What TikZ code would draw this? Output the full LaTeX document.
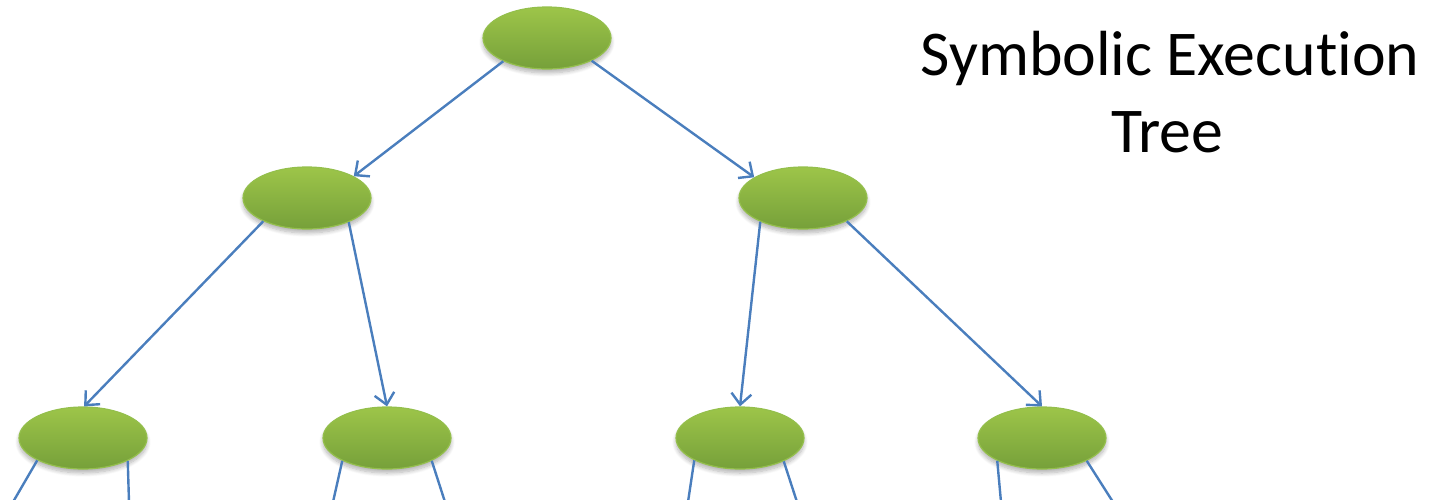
\documentclass[tikz,border=0pt]{standalone}
\usepackage{fontspec}
\setmainfont{Carlito}[Ligatures=NoCommon]
\usetikzlibrary{shapes.geometric,arrows.meta,shadows.blur}
\definecolor{edgeblue}{HTML}{4A7EBD}
\definecolor{gtop}{HTML}{9DC549}
\definecolor{gbot}{HTML}{76A03A}
\definecolor{gborder}{HTML}{94BF4C}
\begin{document}
\begin{tikzpicture}[x=1pt,y=-1pt,
  state/.style={ellipse, minimum width=128pt, minimum height=62pt, inner sep=0pt,
    top color=gtop, bottom color=gbot, draw=gborder, line width=1.2pt,
    blur shadow={shadow xshift=0pt, shadow yshift=-4pt, shadow opacity=30, shadow blur radius=4pt, shadow blur steps=8}},
  link/.style={draw=edgeblue, line width=2.4pt, -{Straight Barb[length=11pt,width=20pt]}},
  tail/.style={draw=edgeblue, line width=2.4pt},
  title/.style={inner sep=0pt, anchor=base, font=\fontsize{63.8}{76}\selectfont}]
\path[use as bounding box] (0,0) rectangle (1437,500);
\begin{scope}
\clip (0,0) rectangle (1437,500);
\node[state] (r) at (547,38) {};
\node[state] (l) at (307,198) {};
\node[state] (rr) at (803,198) {};
\node[state] (a) at (83,438) {};
\node[state] (b) at (387,438) {};
\node[state] (c) at (740,438) {};
\node[state] (d) at (1042,438) {};

\draw[link] (r.208.6) -- (l.25.6);
\draw[link] (r.333) -- (rr.157.4);
\draw[link] (l.208) -- (a.88);
\draw[link] (l.330) -- (b.90);
\draw[link] (rr.209.5) -- (c.90);
\draw[link] (rr.332) -- (d.90);

\coordinate (a1) at (13,502);
\coordinate (a2) at (129,502);
\coordinate (b1) at (333,502);
\coordinate (b2) at (445,502);
\coordinate (c1) at (688,502);
\coordinate (c2) at (797,502);
\coordinate (d1) at (1001,502);
\coordinate (d2) at (1113,502);
\draw[tail] (a.206.6) -- (a1);
\draw[tail] (a.333) -- (a2);
\draw[tail] (b.207) -- (b1);
\draw[tail] (b.333) -- (b2);
\draw[tail] (c.206) -- (c1);
\draw[tail] (c.332) -- (c2);
\draw[tail] (d.207) -- (d1);
\draw[tail] (d.333) -- (d2);
\end{scope}

\node[title] (t1) at (1170,76) {Symbolic Execution};
\node[title] (t2) at (1167,152) {Tree};
\end{tikzpicture}
\end{document}
